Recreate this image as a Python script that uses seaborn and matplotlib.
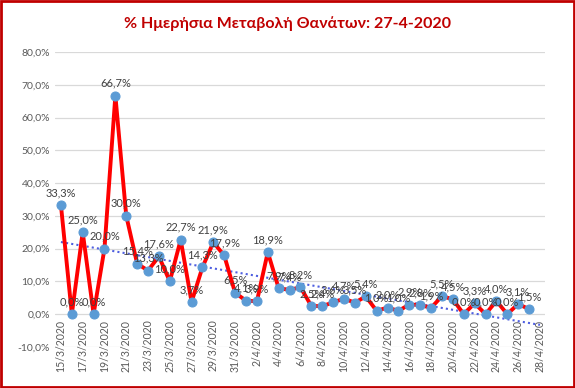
import numpy as np
import pandas as pd
import matplotlib
matplotlib.use("Agg")
import matplotlib.pyplot as plt
import seaborn as sns
from matplotlib.patches import Rectangle

sns.set_theme(style="white")
plt.rcParams["font.family"] = ["Lato", "Noto Sans", "DejaVu Sans"]

# x categories: 15/3/2020 .. 28/4/2020
dates = pd.date_range("2020-03-15", "2020-04-28", freq="D")
date_labels = [f"{d.day}/{d.month}/{d.year}" for d in dates]

# daily % change of deaths, 15/3 .. 27/4
pct_change = [33.3, 0.0, 25.0, 0.0, 20.0, 66.7, 30.0, 15.4, 13.3, 17.6,
              10.0, 22.7, 3.7, 14.3, 21.9, 17.9, 6.5, 4.1, 3.9, 18.9,
              7.9, 7.4, 8.2, 2.5, 2.4, 3.6, 4.7, 3.5, 5.4, 1.0,
              2.0, 1.0, 2.9, 2.8, 1.9, 5.5, 4.5, 0.0, 3.3, 0.0,
              4.0, 0.0, 3.1, 1.5]

y_ticks = [-10, 0, 10, 20, 30, 40, 50, 60, 70, 80]

df = pd.DataFrame({"idx": np.arange(len(pct_change)), "pct": pct_change})


def comma_pct(v):
    return f"{v:.1f}%".replace(".", ",")


fig = plt.figure(figsize=(5.75, 3.88), dpi=100)
ax = fig.add_axes([0.0965, 0.106, 0.852, 0.76])
for s in ax.spines.values():
    s.set_visible(False)
# category axis crosses at 0, labels hang from the zero line
ax.spines["bottom"].set_position(("data", 0))

# linear trend, extended one period forward
coef = np.polyfit(df["idx"], df["pct"], 1)
trend_x = np.arange(len(dates))
ax.plot(trend_x, np.polyval(coef, trend_x), color="#4F5FE0", lw=1.5,
        ls=(0, (1, 1.5)), zorder=2)

sns.lineplot(data=df, x="idx", y="pct", ax=ax, color="#FF0000", lw=2.8,
             marker="o", markersize=6.5, markerfacecolor="#5B9BD5",
             markeredgecolor="#5B9BD5", zorder=3)

for i, v in zip(df["idx"], df["pct"]):
    ax.annotate(comma_pct(v), (i, v), xytext=(0, 5), textcoords="offset points",
                ha="center", va="bottom", fontsize=8, color="#404040", zorder=4)

ax.set_xlim(-0.5, len(dates) - 0.5)
ax.set_ylim(-10, 80)
ax.set_yticks(y_ticks)
ax.set_yticklabels([comma_pct(t) for t in y_ticks], fontsize=7.5, color="#595959")
ax.set_xticks(range(0, len(dates), 2))
ax.set_xticklabels(date_labels[::2], rotation=90, fontsize=7.6, color="#595959",
                   ha="center", va="top")
ax.tick_params(axis="both", length=0, pad=4)
ax.set_xlabel("")
ax.set_ylabel("")
ax.grid(axis="y", color="#D9D9D9", lw=0.9)

fig.text(0.5, 0.94, "% Ημερήσια Μεταβολή Θανάτων: 27-4-2020", ha="center",
         va="center", fontsize=11.5, fontweight="bold", color="#C00000")

fig.patches.append(Rectangle((0.002, 0.003), 0.996, 0.994, transform=fig.transFigure,
                             fill=False, edgecolor="#C00000", lw=2))

fig.savefig("out.png", dpi=100)
